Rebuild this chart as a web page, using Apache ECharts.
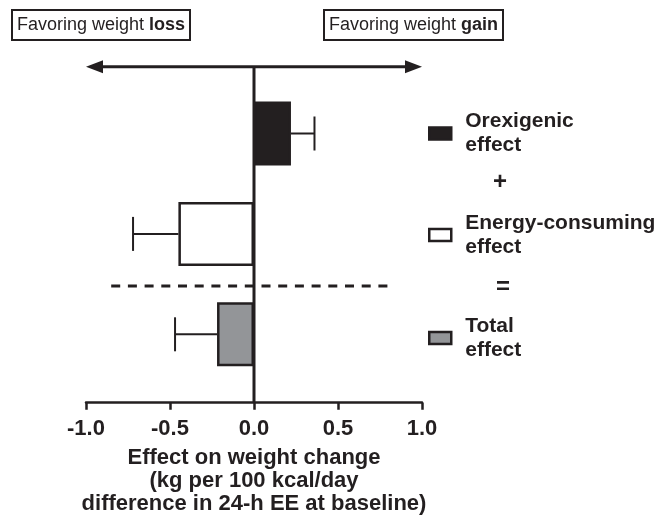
<!DOCTYPE html>
<html>
<head>
<meta charset="utf-8">
<script src="https://cdn.jsdelivr.net/npm/echarts@6/dist/echarts.min.js"></script>
<style>html,body{margin:0;padding:0;background:#fff}#c{width:661px;height:519px}</style>
</head>
<body>
<div id="c"></div>
<script>
// ---- data ----
const categories = ['Orexigenic effect', 'Energy-consuming effect', 'Total effect'];
const legendLabels = ['Orexigenic\neffect', 'Energy-consuming\neffect', 'Total\neffect'];
const effectValues = [0.22, -0.45, -0.22];
const errorEnds = [0.36, -0.72, -0.47];
const xTicks = [-1.0, -0.5, 0.0, 0.5, 1.0];
const separatorRange = [-0.85, 0.80];
const operators = ['+', '='];
const headerLoss = ['Favoring weight ', 'loss'];
const headerGain = ['Favoring weight ', 'gain'];
const axisTitleLines = ['Effect on weight change', '(kg per 100 kcal/day', 'difference in 24-h EE at baseline)'];

// ---- style ----
const INK = '#231f20';
const fills = ['#231f20', '#ffffff', '#939598'];
const FONT = '"Liberation Sans", Arial, Helvetica, sans-serif';

const chart = echarts.init(document.getElementById('c'), null, {renderer: 'canvas'});

const xMin = xTicks[0], xMax = xTicks[xTicks.length - 1], xStep = xTicks[1] - xTicks[0];

const barSeries = categories.map((name, i) => ({
  type: 'bar', name, xAxisIndex: 0, yAxisIndex: 0,
  barWidth: 64, barGap: '-100%', silent: true,
  data: categories.map((c, j) => j === i ? effectValues[i] : '-'),
  itemStyle: {color: fills[i], borderColor: INK, borderWidth: 2.5},
  z: 3
}));

const errorSeries = {
  type: 'custom', xAxisIndex: 0, yAxisIndex: 0, silent: true, z: 2,
  data: categories.map((c, i) => [errorEnds[i], i, effectValues[i]]),
  encode: {x: [0, 2], y: 1},
  renderItem: (params, api) => {
    const end = api.coord([api.value(0), api.value(1)]);
    const start = api.coord([api.value(2), api.value(1)]);
    const cap = 17;
    const st = {stroke: INK, lineWidth: 2, fill: null};
    return {type: 'group', children: [
      {type: 'line', shape: {x1: start[0], y1: start[1], x2: end[0], y2: end[1]}, style: st},
      {type: 'line', shape: {x1: end[0], y1: end[1] - cap, x2: end[0], y2: end[1] + cap}, style: st}
    ]};
  }
};

const separatorSeries = {
  type: 'custom', xAxisIndex: 0, yAxisIndex: 0, silent: true, z: 1,
  data: [[separatorRange[0], separatorRange[1], 1]],
  encode: {x: [0, 1], y: 2},
  renderItem: (params, api) => {
    const p1 = api.coord([api.value(0), api.value(2)]);
    const p2 = api.coord([api.value(1), api.value(2)]);
    const y = p1[1] + api.size([0, 1])[1] / 2 + 2;
    return {type: 'line', shape: {x1: p1[0], y1: y, x2: p2[0], y2: y},
      style: {stroke: INK, lineWidth: 3, lineDash: [9, 7.7], fill: null}};
  }
};

const frameSeries = {
  type: 'custom', xAxisIndex: 1, yAxisIndex: 1, silent: true, z: 4,
  data: [[xMin, xMax, 0, 1]],
  encode: {x: [0, 1], y: [2, 3]},
  renderItem: (params, api) => {
    const zeroBottom = api.coord([0, api.value(2)]);
    const zeroTop = api.coord([0, api.value(3)]);
    const L = api.coord([api.value(0), api.value(3)]);
    const R = api.coord([api.value(1), api.value(3)]);
    const hl = 17, hh = 6.5;
    const st = {stroke: INK, lineWidth: 3, fill: null};
    return {type: 'group', children: [
      {type: 'line', shape: {x1: zeroBottom[0], y1: zeroBottom[1], x2: zeroTop[0], y2: zeroTop[1]}, style: st},
      {type: 'line', shape: {x1: L[0] + hl - 1, y1: L[1], x2: R[0] - hl + 1, y2: R[1]}, style: st},
      {type: 'polygon', shape: {points: [[L[0], L[1]], [L[0] + hl, L[1] - hh], [L[0] + hl, L[1] + hh]]}, style: {fill: INK}},
      {type: 'polygon', shape: {points: [[R[0], R[1]], [R[0] - hl, R[1] - hh], [R[0] - hl, R[1] + hh]]}, style: {fill: INK}}
    ]};
  }
};

const legendTops = [109.5, 211, 314];
const legends = categories.map((name, i) => ({
  data: [{name, itemStyle: {color: fills[i], borderColor: INK, borderWidth: 2.5}}],
  orient: 'vertical', left: 428, top: legendTops[i], padding: 0,
  itemWidth: 22, itemHeight: 12, icon: 'rect', selectedMode: false,
  formatter: () => legendLabels[i],
  textStyle: {fontFamily: FONT, fontSize: 21, fontWeight: 'bold', lineHeight: 24, color: INK, padding: [0, 0, 0, 9]}
}));

const opPos = [[500, 182], [503, 287]];
const operatorGraphics = operators.map((t, i) => ({
  type: 'text', x: opPos[i][0], y: opPos[i][1], silent: true,
  style: {text: t, font: 'bold 24px ' + FONT, fill: INK, align: 'center', verticalAlign: 'middle'}
}));

function headerTitle(parts, left) {
  return {
    text: parts[0] + '{b|' + parts[1] + '}', left, top: 10,
    padding: [6, 5], borderWidth: 2, borderColor: INK,
    textStyle: {fontFamily: FONT, fontSize: 18, fontWeight: 'normal', color: INK,
      rich: {b: {fontFamily: FONT, fontSize: 18, fontWeight: 'bold', color: INK}}}
  };
}

const option = {
  animation: false,
  backgroundColor: '#ffffff',
  textStyle: {fontFamily: FONT},
  title: [headerTitle(headerLoss, 12), headerTitle(headerGain, 324)],
  legend: legends,
  grid: [
    {left: 86, right: 239, top: 83.3, bottom: 134.5, outerBoundsMode: 'none', containLabel: false},
    {left: 86, right: 239, top: 66.7, bottom: 116.3, outerBoundsMode: 'none', containLabel: false}
  ],
  xAxis: [
    {type: 'value', gridIndex: 0, min: xMin, max: xMax, interval: xStep, show: false},
    {type: 'value', gridIndex: 1, min: xMin, max: xMax, interval: xStep,
      splitLine: {show: false},
      axisLine: {show: true, onZero: false, lineStyle: {color: INK, width: 2.5}},
      axisTick: {show: true, length: 7, lineStyle: {color: INK, width: 2.5}},
      axisLabel: {margin: 15, fontFamily: FONT, fontSize: 22, fontWeight: 'bold', color: INK,
        formatter: v => v.toFixed(1)},
      name: axisTitleLines.join('\n'), nameLocation: 'middle', nameGap: 44,
      nameTextStyle: {fontFamily: FONT, fontSize: 22, fontWeight: 'bold', color: INK, lineHeight: 23}
    }
  ],
  yAxis: [
    {type: 'category', gridIndex: 0, data: categories, inverse: true, show: false},
    {type: 'value', gridIndex: 1, min: 0, max: 1, show: false}
  ],
  graphic: operatorGraphics,
  series: [separatorSeries, ...barSeries, errorSeries, frameSeries]
};
chart.setOption(option);
</script>
</body>
</html>
